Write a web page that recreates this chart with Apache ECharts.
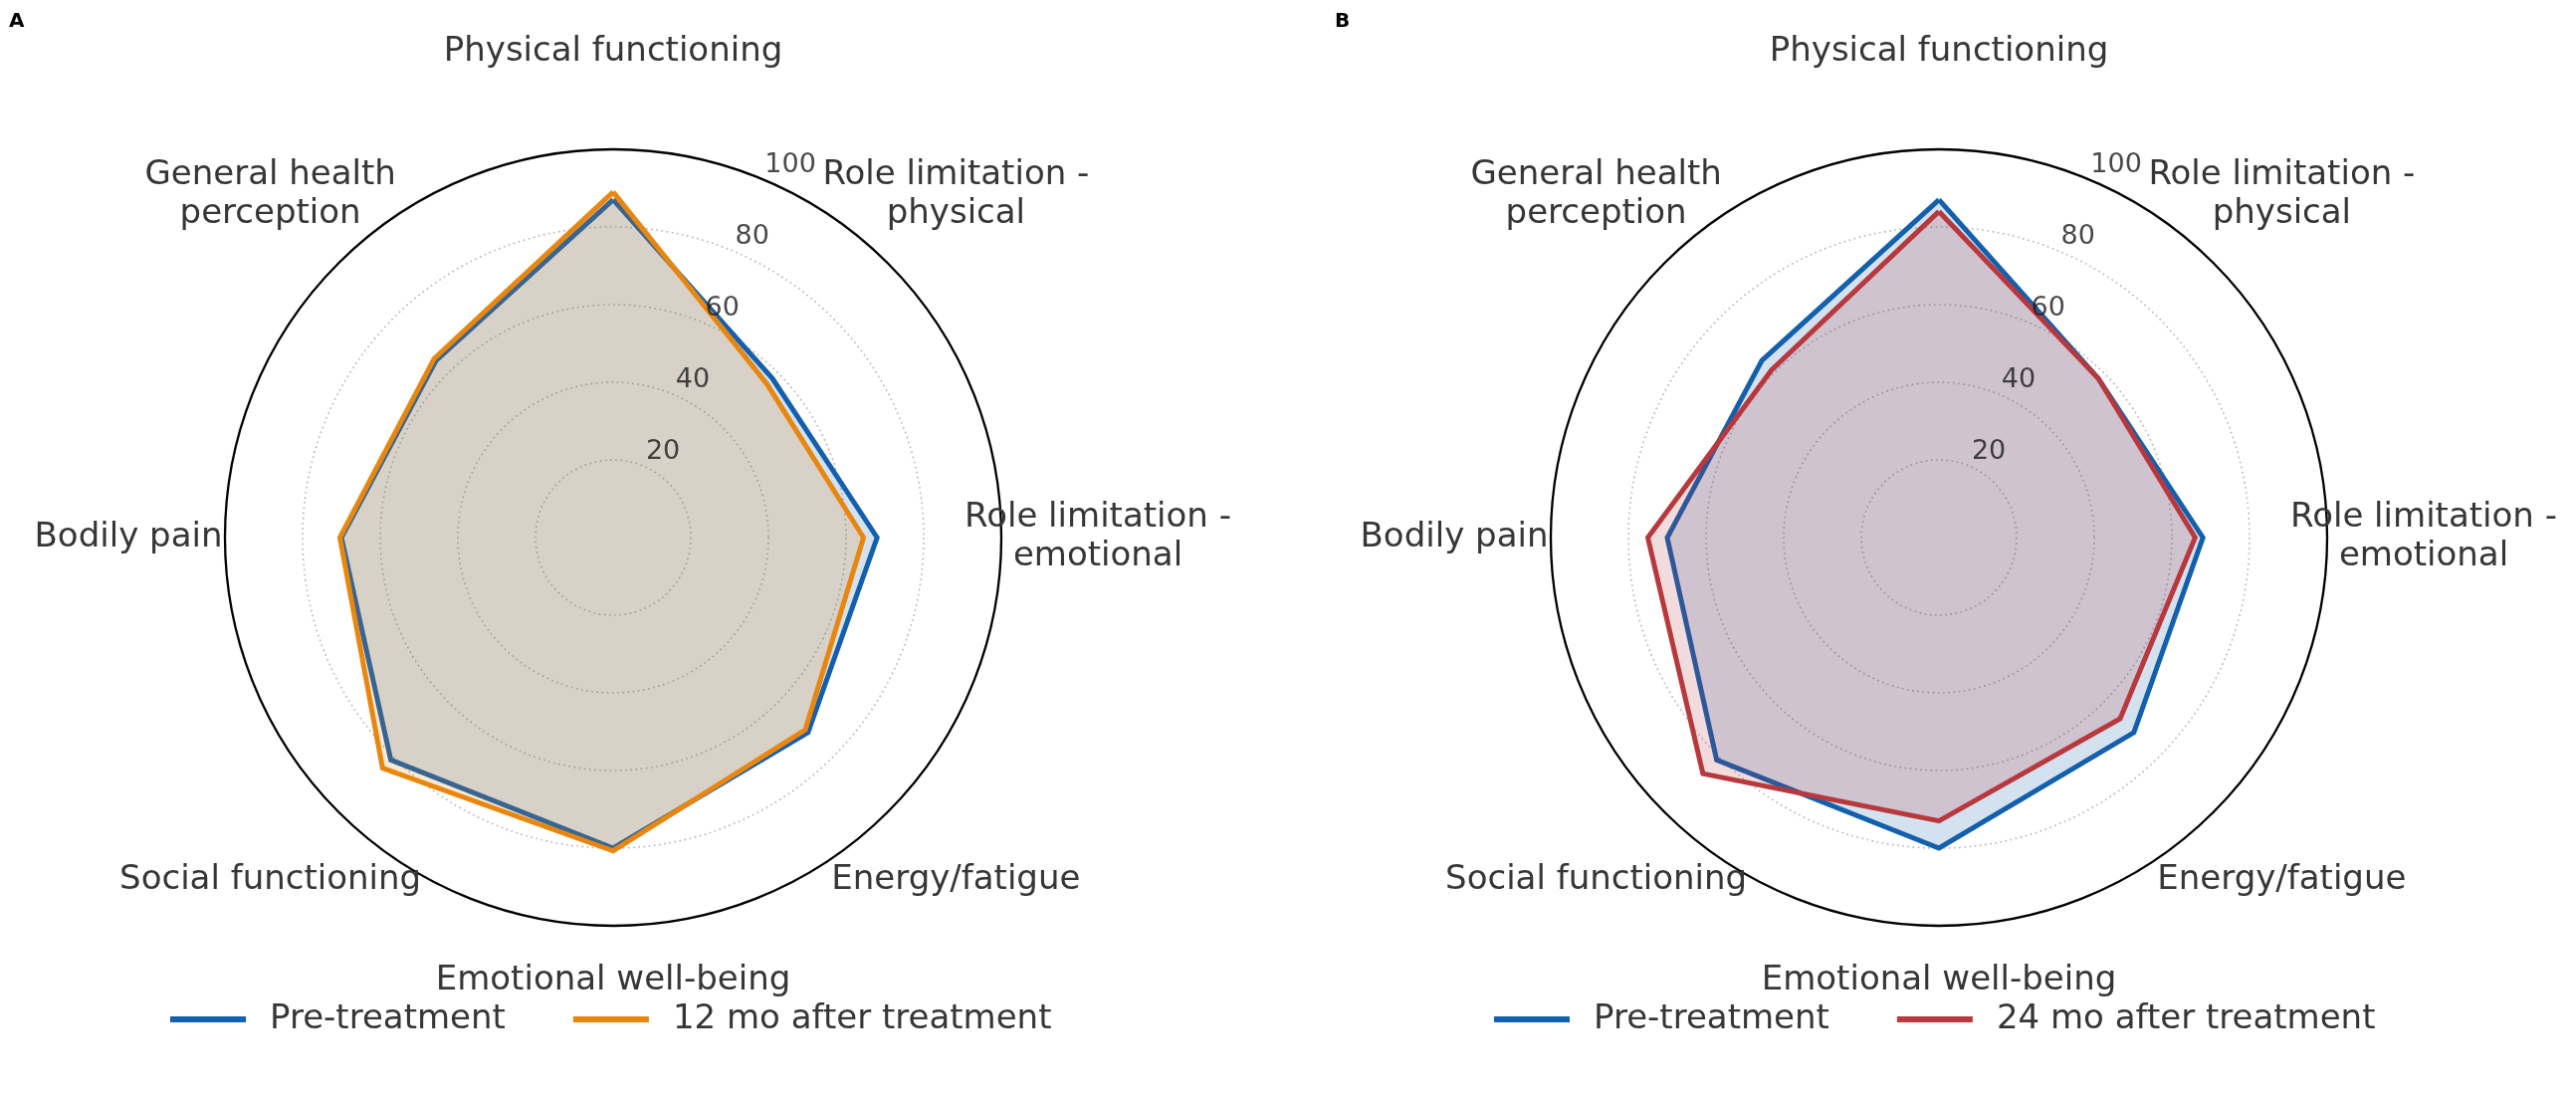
<!DOCTYPE html>
<html><head><meta charset="utf-8">
<script src="https://cdn.jsdelivr.net/npm/echarts@6/dist/echarts.min.js"></script>
<style>html,body{margin:0;padding:0;background:#fff}#c{width:2588px;height:1106px}</style>
</head><body><div id="c"></div>
<script>
// ---- data (clockwise from top) ----
const categories = ['Physical functioning', 'Role limitation -\nphysical', 'Role limitation -\nemotional', 'Energy/fatigue', 'Emotional well-being', 'Social functioning', 'Bodily pain', 'General health\nperception'];
const preTreatment = [87, 58, 68, 71, 80, 81, 70, 64.5];
const after12mo = [89, 56, 64.5, 70, 80.7, 84, 70.4, 65.2];
const after24mo = [84, 58, 66, 66, 73, 86, 75, 61];
const radialTicks = [20, 40, 60, 80, 100];
const panelLabels = ['A', 'B'];
const legendA = ['Pre-treatment', '12 mo after treatment'];
const legendB = ['Pre-treatment', '24 mo after treatment'];

// ---- style / layout ----
const FONT = 'DejaVu Sans';
const COL = { pre: '#1360ae', m12: '#e8870f', m24: '#b8393d' };
const centers = [[616, 540], [1948, 540]];
const R = 390;
const TEXT = '#363636';

// ECharts radar places indicators counterclockwise; reorder so they appear clockwise
const ccw = arr => [arr[0]].concat(arr.slice(1).reverse());

const nameKey = n => n === 'Physical functioning' ? 'top' : (n === 'Emotional well-being' ? 'bot' : 'n');
const nameRich = {
  n: { fontSize: 34, fontFamily: FONT, color: TEXT, lineHeight: 39 },
  top: { fontSize: 34, fontFamily: FONT, color: TEXT, padding: [0, 0, 2, 0] },
  bot: { fontSize: 34, fontFamily: FONT, color: TEXT, padding: [0, 0, 84, 0] }
};

function radarItem(name, values, color) {
  return {
    name: name, value: ccw(values), symbol: 'none',
    lineStyle: { color: color, width: 5, join: 'miter', miterLimit: 10 },
    itemStyle: { color: color },
    areaStyle: { color: color, opacity: 0.18 }
  };
}

const option = {
  backgroundColor: '#fff',
  animation: false,
  title: panelLabels.map((t, i) => ({
    text: t, left: i === 0 ? 9 : 1341, top: 12, padding: 0,
    textStyle: { fontSize: 20, fontWeight: 'bold', color: '#000', fontFamily: FONT }
  })),
  polar: centers.map(c => ({ center: c, radius: [0, R] })),
  angleAxis: centers.map((c, i) => ({
    polarIndex: i, type: 'value', min: 0, max: 360, startAngle: 90, clockwise: true,
    axisLine: { show: true, lineStyle: { color: '#000', width: 2.3 } },
    axisTick: { show: false }, axisLabel: { show: false }, splitLine: { show: false }
  })),
  radiusAxis: centers.map((c, i) => ({
    polarIndex: i, type: 'value', min: 0, max: 100, interval: 20,
    axisLine: { show: false }, axisTick: { show: false }, axisLabel: { show: false },
    splitLine: { show: true, lineStyle: { color: '#b0b3b0', width: 1.6, type: [1.6, 3.6] } }
  })),
  radar: centers.map(c => ({
    center: c, radius: R, startAngle: 90, shape: 'circle', splitNumber: 5,
    indicator: ccw(categories).map(n => ({ name: n, min: 0, max: 100 })),
    axisLine: { show: false }, splitLine: { show: false }, splitArea: { show: false },
    axisTick: { show: false }, axisLabel: { show: false },
    nameGap: 97,
    axisName: {
      color: TEXT, fontSize: 34, fontFamily: FONT, align: 'center', verticalAlign: 'middle',
      formatter: n => n.split('\n').map(l => '{' + nameKey(n) + '|' + l + '}').join('\n'),
      rich: nameRich
    }
  })),
  legend: [legendA, legendB].map((d, i) => ({
    data: d, left: i === 0 ? 171 : 1501, top: 1007, orient: 'horizontal', padding: 0,
    icon: 'rect', itemWidth: 76, itemHeight: 6, itemGap: 68, selectedMode: false,
    textStyle: { fontSize: 34, color: TEXT, fontFamily: FONT, padding: [0, 0, 0, 19] }
  })),
  series: [
    { type: 'radar', radarIndex: 0, silent: true,
      data: [radarItem(legendA[0], preTreatment, COL.pre), radarItem(legendA[1], after12mo, COL.m12)] },
    { type: 'radar', radarIndex: 1, silent: true,
      data: [radarItem(legendB[0], preTreatment, COL.pre), radarItem(legendB[1], after24mo, COL.m24)] }
  ].concat(centers.map((c, i) => ({
    type: 'scatter', coordinateSystem: 'polar', polarIndex: i, silent: true,
    symbolSize: 0.1, itemStyle: { color: 'transparent' },
    data: radialTicks.map(v => [v, 22.5]),
    label: { show: true, position: 'right', distance: 3, offset: [0, -14],
      formatter: p => String(p.value[0]), fontSize: 27, color: '#1a1a1a', fontFamily: FONT }
  })))
};

const chart = echarts.init(document.getElementById('c'), null, { renderer: 'canvas' });
chart.setOption(option);
</script></body></html>
